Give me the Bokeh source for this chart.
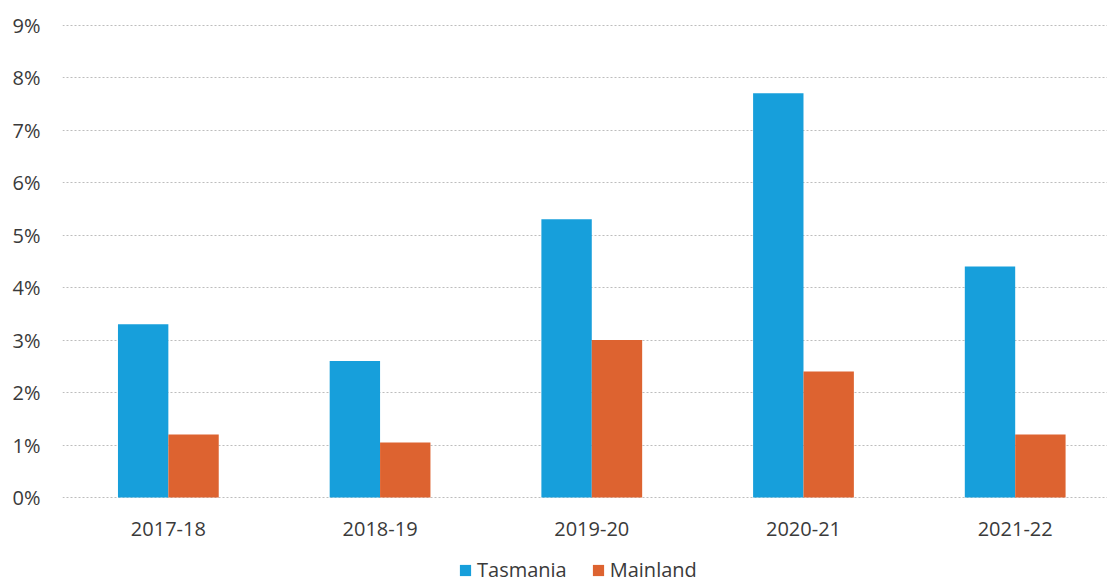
from bokeh.plotting import figure
from bokeh.models import Range1d, FixedTicker, Legend, LegendItem, ColumnDataSource
from bokeh.core.properties import value
from bokeh.embed import file_html
from bokeh.resources import INLINE
import numpy as np

categories = ["2017-18", "2018-19", "2019-20", "2020-21", "2021-22"]
tasmania = [3.3, 2.6, 5.3, 7.7, 4.4]
mainland = [1.2, 1.05, 3.0, 2.4, 1.2]
y_ticks = [0, 1, 2, 3, 4, 5, 6, 7, 8, 9]
y_tick_labels = ["0%", "1%", "2%", "3%", "4%", "5%", "6%", "7%", "8%", "9%"]

FONT = "Open Sans"
TXT = "#3a3a3a"
BLUE = "#179fdb"
ORANGE = "#dd6330"

centers = np.arange(len(categories)) + 0.5

# frame reaches the bottom of the canvas so that the legend (inside the frame) is not clipped
p = figure(width=1107, height=584, output_backend="svg", toolbar_location=None,
           x_range=Range1d(0, 4.936), y_range=Range1d(-1.657, 9.05),
           min_border_left=62, min_border_right=0, min_border_top=22, min_border_bottom=0)
p.outline_line_color = None
p.background_fill_color = "white"
p.border_fill_color = "white"

r1 = p.vbar(x=centers - 0.119, top=tasmania, width=0.238, color=BLUE, line_color=None)
r2 = p.vbar(x=centers + 0.119, top=mainland, width=0.238, color=ORANGE, line_color=None)

# category labels under the baseline
lab_src = ColumnDataSource(dict(x=centers, y=np.zeros(len(categories)), text=categories))
p.text(x="x", y="y", text="text", source=lab_src, text_align="center", text_baseline="top",
       y_offset=24, text_font=value(FONT), text_font_size="20px", text_color=TXT)

p.xaxis.visible = False
p.xgrid.grid_line_color = None
p.ygrid.grid_line_color = "#bdbdbd"
p.ygrid.grid_line_dash = "2 2"
p.ygrid.grid_line_width = 1
p.ygrid.ticker = FixedTicker(ticks=y_ticks)

p.yaxis.ticker = FixedTicker(ticks=y_ticks)
p.yaxis.major_label_overrides = {t: l for t, l in zip(y_ticks, y_tick_labels)}
p.yaxis.axis_line_color = None
p.yaxis.major_tick_line_color = None
p.yaxis.minor_tick_line_color = None
p.yaxis.major_tick_out = 0
p.yaxis.major_tick_in = 0
p.yaxis.major_label_text_font = FONT
p.yaxis.major_label_text_font_size = "20px"
p.yaxis.major_label_text_color = TXT
p.yaxis.major_label_standoff = 22

legend = Legend(items=[LegendItem(label="Tasmania", renderers=[r1]),
                       LegendItem(label="Mainland", renderers=[r2])],
                location=(396, 1), orientation="horizontal",
                glyph_width=14, glyph_height=14, label_standoff=5, spacing=24,
                padding=0, margin=0, border_line_color=None, background_fill_alpha=0,
                label_height=20,
                label_text_font=FONT, label_text_font_size="20px", label_text_color=TXT)
p.add_layout(legend, "center")

open("out.html", "w").write(file_html(p, INLINE))
